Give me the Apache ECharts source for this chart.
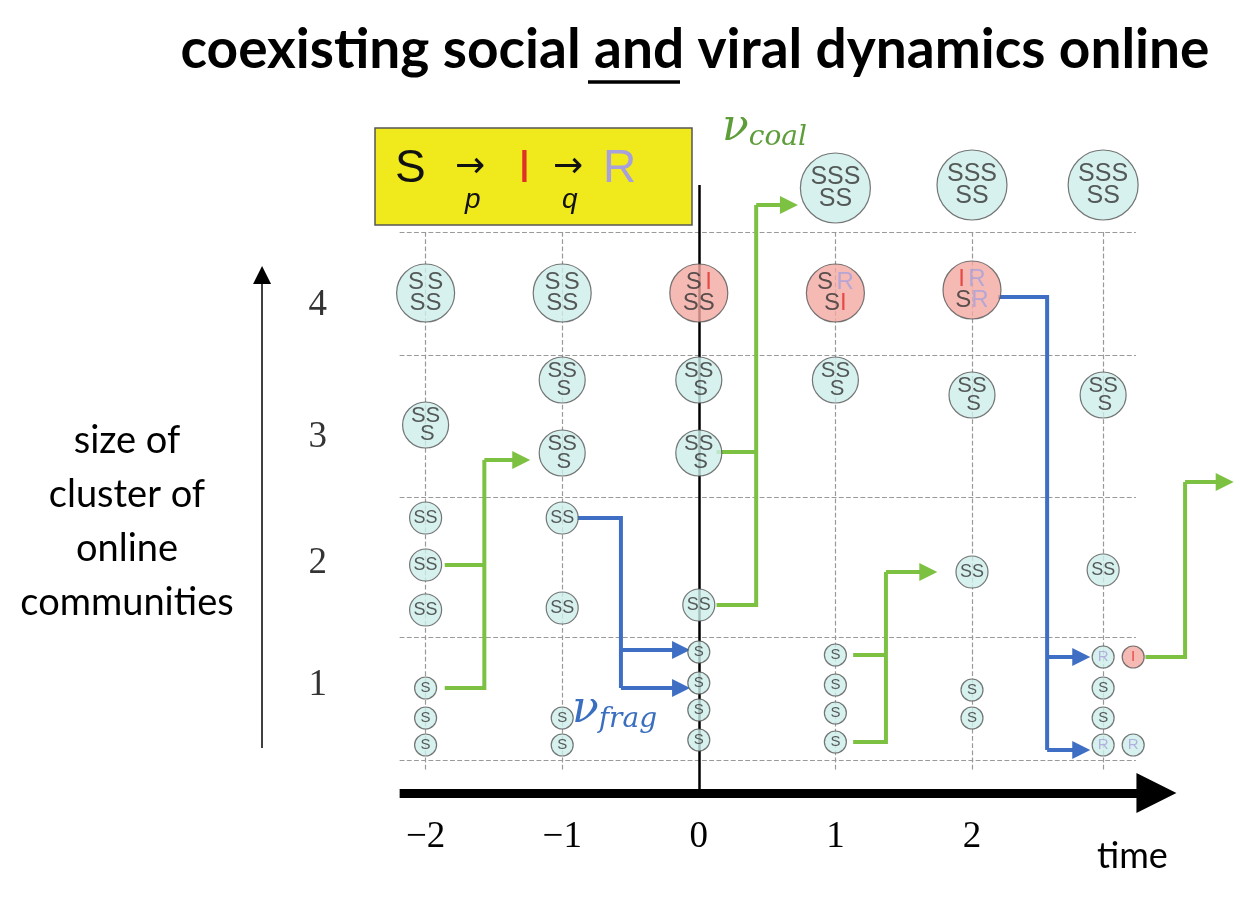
<!DOCTYPE html>
<html><head><meta charset="utf-8">
<script src="https://cdn.jsdelivr.net/npm/echarts@6/dist/echarts.min.js"></script>
<style>html,body{margin:0;background:#fff}#c{width:1240px;height:901px}</style></head>
<body><div id="c"></div>
<script>
// time ticks
var timeTicks = [-2, -1, 0, 1, 2];
var sizeTicks = [1, 2, 3, 4];
var sizeTickY = [1.08, 2.30, 3.56, 4.88];
// clusters: column time, level y, cluster size, letters
var clusterX = [-2,-2,-2,-2,-2,-2,-2,-2, -1,-1,-1,-1,-1,-1,-1, 0,0,0,0,0,0,0,0, 1,1,1,1,1,1,1, 2,2,2,2,2,2, 2.96,2.96,2.96,2.96,2.96,2.96,2.96,3.18,3.18];
var clusterY = [5.00,3.68,2.75,2.28,1.83,1.05,0.75,0.48, 5.00,4.13,3.40,2.75,1.85,0.75,0.48, 5.00,4.13,3.40,1.88,1.41,1.10,0.83,0.53, 6.05,5.00,4.13,1.38,1.08,0.80,0.51, 6.08,5.03,3.98,2.21,1.03,0.75, 6.08,3.98,2.23,1.36,1.05,0.75,0.48,1.36,0.48];
var clusterSize = [4,3,2,2,2,1,1,1, 4,3,3,2,2,1,1, 4,3,3,2,1,1,1,1, 5,4,3,1,1,1,1, 5,4,3,2,1,1, 5,3,2,1,1,1,1,1,1];
var clusterText = ['SSSS','SSS','SS','SS','SS','S','S','S', 'SSSS','SSS','SSS','SS','SS','S','S', 'SISS','SSS','SSS','SS','S','S','S','S', 'SSSSS','SRSI','SSS','S','S','S','S', 'SSSSS','IRSR','SSS','SS','S','S', 'SSSSS','SSS','SS','R','S','S','R','I','R'];
// arrows (time, level): path, last point gets an arrowhead
var greenArrows = [
  [[-1.86,1.05],[-1.57,1.05],[-1.57,3.33],[-1.30,3.33]],
  [[0.13,1.88],[0.42,1.88],[0.42,5.88],[0.66,5.88]],
  [[1.13,0.51],[1.37,0.51],[1.37,2.21],[1.68,2.21]],
  [[3.27,1.36],[3.56,1.36],[3.56,3.11],[3.85,3.11]]
];
var greenBranches = [
  [[-1.86,2.28],[-1.57,2.28]],
  [[0.13,3.41],[0.42,3.41]],
  [[1.13,1.38],[1.37,1.38]]
];
var blueArrows = [
  [[-0.89,2.75],[-0.57,2.75],[-0.57,1.05],[-0.13,1.05]],
  [[-0.57,1.43],[-0.13,1.43]],
  [[2.19,4.96],[2.55,4.96],[2.55,0.43],[2.80,0.43]],
  [[2.55,1.36],[2.80,1.36]]
];
var rowLines = [5.61, 4.38, 2.96, 1.56, 0.33];
var dashedCols = [-2, -1, 1, 2, 2.96];

var colS = '#333', colI = '#e0302a', colR = '#a7a0dc';
var GREEN = '#7cc142', BLUE = '#3f6fc4';
function lettersRich(t, sz) {
  var k = {1:'a',2:'b',3:'c',4:'d',5:'e'}[sz];
  function w(ch){ return '{' + k + ch + '|' + ch + '}'; }
  if (t.length === 1) return w(t);
  if (t.length === 2) return w(t[0]) + w(t[1]);
  if (t.length === 3) return w(t[0]) + w(t[1]) + '\n ' + w(t[2]);
  if (t.length === 4) return w(t[0]) + ' ' + w(t[1]) + '\n' + w(t[2]) + w(t[3]);
  return w(t[0]) + w(t[1]) + w(t[2]) + '\n' + w(t[3]) + w(t[4]);
}
var rSize = {1: 22, 2: 32, 3: 46, 4: 58, 5: 70};
var fSize = {1: 15, 2: 18, 3: 22, 4: 24, 5: 25};
var rich = {};
['a','b','c','d','e'].forEach(function(k, i){
  var fs = fSize[i+1];
  [['S', colS], ['I', colI], ['R', colR]].forEach(function(p){
    rich[k+p[0]] = {color: p[1], fontSize: fs, fontFamily: 'Liberation Sans', lineHeight: fs*0.85};
  });
});
var clusters = clusterX.map(function(x, i){
  var t = clusterText[i];
  var infected = t.indexOf('I') >= 0;
  return {
    value: [x, clusterY[i]],
    symbolSize: rSize[clusterSize[i]],
    itemStyle: {color: infected ? '#f4a9a2' : '#cdeeea', borderColor: '#555', borderWidth: 1.2},
    label: {show: true, position: 'inside', formatter: lettersRich(t, clusterSize[i]), rich: rich, align: 'center'}
  };
});

var gridSeg = [];
rowLines.forEach(function(y){ gridSeg.push({coords: [[-2.19, y], [3.2, y]]}); });
dashedCols.forEach(function(x){ gridSeg.push({coords: [[x, 5.61], [x, 0.23]]}); });

function bodies(list){ return list.map(function(c){ return {coords: c.slice(0, c.length - 1)}; }).filter(function(d){ return d.coords.length > 1; }); }
function heads(list){ return list.map(function(c){ return {coords: c.slice(c.length - 2)}; }); }
function pathSeries(data, color){
  return {type: 'lines', coordinateSystem: 'cartesian2d', polyline: true, clip: false, z: 3,
    lineStyle: {color: color, width: 4, opacity: 1}, data: data};
}
function headSeries(data, color){
  return {type: 'lines', coordinateSystem: 'cartesian2d', clip: false, z: 3,
    symbol: ['none', 'triangle'], symbolSize: [16, 18],
    lineStyle: {color: color, width: 4, opacity: 1}, data: data};
}

var chart = echarts.init(document.getElementById('c'));
chart.setOption({
  animation: false,
  title: {text: 'coexisting social and viral dynamics online', left: 690, top: 18, textAlign: 'center',
    textStyle: {fontFamily: 'Lato', fontWeight: 'bold', fontSize: 55, color: '#000'}},
  grid: {left: 289, right: 0, top: 0, bottom: 108},
  xAxis: {type: 'value', min: -3, max: 3.94, interval: 1, splitLine: {show: false},
    axisLine: {show: false}, axisTick: {show: false},
    axisLabel: {margin: 26, fontSize: 37, fontFamily: 'Liberation Serif', color: '#000',
      formatter: function(v){ return timeTicks.indexOf(v) >= 0 ? String(v).replace('-', '\u2212') : ''; }}},
  yAxis: {type: 'value', min: 0, max: 7.93, show: false},
  graphic: [
    {type: 'rect', shape: {x: 375, y: 128, width: 317, height: 97}, style: {fill: '#f0ea1c', stroke: '#555', lineWidth: 1.5}, z: 5},
    {type: 'text', x: 395, y: 146, z: 6, style: {text: 'S', fontSize: 46, fontFamily: 'Liberation Sans', fill: '#111'}},
    {type: 'text', x: 455, y: 150, z: 6, style: {text: '\u2192', fontSize: 36, fontFamily: 'DejaVu Sans', fill: '#111'}},
    {type: 'text', x: 465, y: 186, z: 6, style: {text: 'p', fontSize: 28, fontStyle: 'italic', fontFamily: 'Liberation Sans', fill: '#111'}},
    {type: 'text', x: 518, y: 146, z: 6, style: {text: 'I', fontSize: 46, fontFamily: 'Liberation Sans', fill: colI}},
    {type: 'text', x: 553, y: 150, z: 6, style: {text: '\u2192', fontSize: 36, fontFamily: 'DejaVu Sans', fill: '#111'}},
    {type: 'text', x: 562, y: 186, z: 6, style: {text: 'q', fontSize: 28, fontStyle: 'italic', fontFamily: 'Liberation Sans', fill: '#111'}},
    {type: 'text', x: 603, y: 146, z: 6, style: {text: 'R', fontSize: 46, fontFamily: 'Liberation Sans', fill: colR}},
    {type: 'line', shape: {x1: 588, y1: 82, x2: 680, y2: 82}, style: {stroke: '#000', lineWidth: 3.5}},
    {type: 'text', x: 722, y: 106, style: {text: '{n|\u03bd}{s|coal}', rich: {
      n: {fontSize: 44, fontStyle: 'italic', fontFamily: 'DejaVu Serif', fill: '#5e9e3a'},
      s: {fontSize: 28, fontStyle: 'italic', fontFamily: 'DejaVu Serif', fill: '#5e9e3a', padding: [18, 0, 0, 0]}}}},
    {type: 'text', x: 572, y: 688, style: {text: '{n|\u03bd}{s|frag}', rich: {
      n: {fontSize: 44, fontStyle: 'italic', fontFamily: 'DejaVu Serif', fill: '#3a6fc0'},
      s: {fontSize: 28, fontStyle: 'italic', fontFamily: 'DejaVu Serif', fill: '#3a6fc0', padding: [18, 0, 0, 0]}}}},
    {type: 'text', x: 127, y: 414, style: {text: 'size of\ncluster of\nonline\ncommunities', align: 'center',
      fontSize: 38, lineHeight: 54, fontFamily: 'Lato', fill: '#000'}},
    {type: 'text', x: 1097, y: 838, style: {text: 'time', fontSize: 36, fontFamily: 'Lato', fill: '#000'}}
  ],
  series: [
    {type: 'lines', coordinateSystem: 'cartesian2d', clip: false, z: 1, silent: true,
      lineStyle: {color: '#999', width: 1.2, type: 'dashed', opacity: 1}, data: gridSeg},
    {type: 'lines', coordinateSystem: 'cartesian2d', clip: false, z: 2,
      lineStyle: {color: '#000', width: 2.5, opacity: 1}, data: [{coords: [[0, 6.08], [0, 0]]}]},
    {type: 'lines', coordinateSystem: 'cartesian2d', clip: false, z: 2,
      symbol: ['none', 'triangle'], symbolSize: [40, 40],
      lineStyle: {color: '#000', width: 9, opacity: 1}, data: [{coords: [[-2.19, 0], [3.35, 0]]}]},
    {type: 'lines', coordinateSystem: 'cartesian2d', clip: false, z: 2,
      symbol: ['none', 'triangle'], symbolSize: [12, 18],
      lineStyle: {color: '#000', width: 1.5, opacity: 1}, data: [{coords: [[-3.197, 0.45], [-3.197, 5.18]]}]},
    pathSeries(bodies(greenArrows).concat(greenBranches.map(function(c){ return {coords: c}; })), GREEN),
    headSeries(heads(greenArrows), GREEN),
    pathSeries(bodies(blueArrows), BLUE),
    headSeries(heads(blueArrows), BLUE),
    {type: 'scatter', z: 4, clip: false, symbol: 'circle', data: clusters},
    {type: 'scatter', z: 4, clip: false, symbolSize: 0,
      data: sizeTicks.map(function(v, i){ return {value: [-2.79, sizeTickY[i]], label: {show: true, formatter: String(v)}}; }),
      label: {position: 'inside', fontSize: 37, fontFamily: 'Liberation Serif', color: '#000'}}
  ]
});
</script></body></html>
